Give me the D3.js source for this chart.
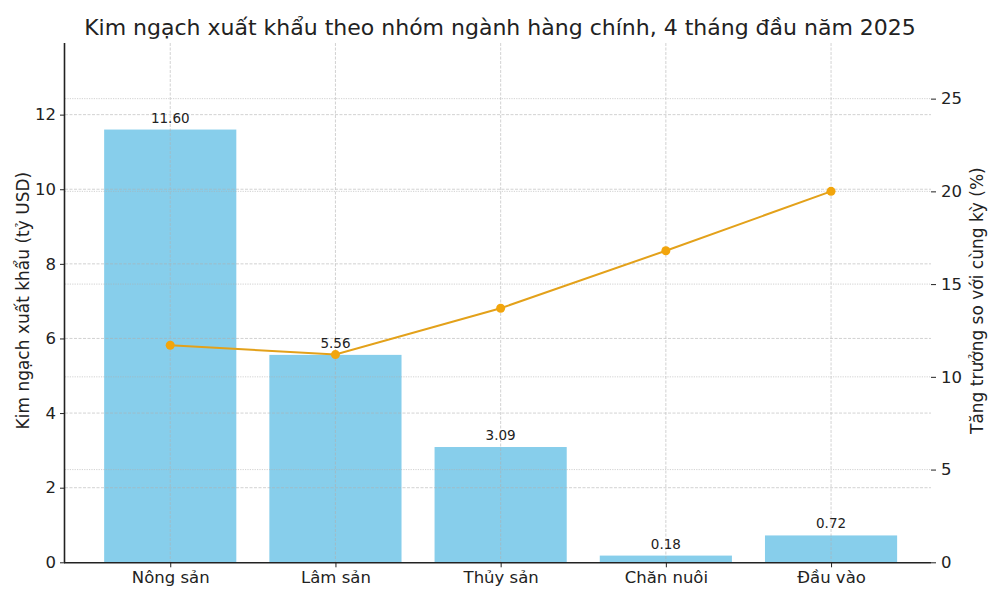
<!DOCTYPE html>
<html><head><meta charset="utf-8">
<script src="https://cdn.jsdelivr.net/npm/d3@7"></script>
<style>body{margin:0;background:#fff}svg{display:block}text{font-family:"DejaVu Sans",sans-serif;fill:#222}</style>
</head><body><svg id="c" width="1000" height="600"></svg>
<script>
const categories = ["Nông sản", "Lâm sản", "Thủy sản", "Chăn nuôi", "Đầu vào"];
const exportValues = [11.60, 5.56, 3.09, 0.18, 0.72];
const growthValues = [11.7, 11.2, 13.7, 16.8, 20.0];
const leftTicks = [0, 2, 4, 6, 8, 10, 12];
const rightTicks = [0, 5, 10, 15, 20, 25];
const title = "Kim ngạch xuất khẩu theo nhóm ngành hàng chính, 4 tháng đầu năm 2025";
const leftLabel = "Kim ngạch xuất khẩu (tỷ USD)";
const rightLabel = "Tăng trưởng so với cùng kỳ (%)";

const svg = d3.select("#c");
const L = 65, R = 931, T = 43, B = 562.3;
const x = d3.scaleLinear().domain([-0.637, 4.605]).range([L, R]);
const yL = d3.scaleLinear().domain([0, 13.92]).range([B, T]);
const yR = d3.scaleLinear().domain([0, 28]).range([B, T]);
const barW = x(0.4) - x(-0.4);

// bars
svg.append("g").selectAll("rect").data(exportValues).join("rect")
  .attr("x", (d, i) => x(i) - barW / 2).attr("width", barW)
  .attr("y", d => yL(d)).attr("height", d => B - yL(d))
  .attr("fill", "#87ceeb");

// grids (drawn above bars, below line)
const g = svg.append("g").attr("stroke", "#b0b0b0").attr("stroke-width", 0.8).attr("opacity", 0.7);
g.selectAll("line.hl").data(leftTicks.filter(d => d > 0)).join("line")
  .attr("x1", L).attr("x2", R).attr("y1", d => yL(d)).attr("y2", d => yL(d))
  .attr("stroke-dasharray", "3,1.5");
g.selectAll("line.vl").data(categories.map((c, i) => i)).join("line")
  .attr("x1", d => x(d)).attr("x2", d => x(d)).attr("y1", T).attr("y2", B)
  .attr("stroke-dasharray", "3,1.5");
g.selectAll("line.hr").data(rightTicks.filter(d => d > 0)).join("line")
  .attr("x1", L).attr("x2", R).attr("y1", d => yR(d)).attr("y2", d => yR(d))
  .attr("stroke-dasharray", "1.2,1.2");

// axes
const axL = d3.axisLeft(yL).tickValues(leftTicks).tickFormat(d3.format("d")).tickSize(5).tickPadding(4);
const gL = svg.append("g").attr("transform", `translate(${L},0)`).call(axL);
gL.select(".domain").attr("d", `M-0.5,${T}V${B}`).attr("stroke", "#222").attr("stroke-width", 1.6);

const axR = d3.axisRight(yR).tickValues(rightTicks).tickFormat(d3.format("d")).tickSize(5).tickPadding(5);
const gR = svg.append("g").attr("transform", `translate(${R},0)`).call(axR);
gR.select(".domain").remove();

const xb = d3.scaleOrdinal().domain(categories).range(categories.map((c, i) => x(i)));
const axB = d3.axisBottom(xb).tickSize(5).tickPadding(4);
const gB = svg.append("g").attr("transform", `translate(0,${B})`).call(axB);
gB.select(".domain").attr("d", `M${L - 1},0.5H${R}`).attr("stroke", "#222").attr("stroke-width", 1.6);

[gL, gR, gB].forEach(a => {
  a.selectAll(".tick line").attr("stroke", "#222").attr("stroke-width", 1);
  a.selectAll(".tick text").attr("font-size", 16.5).attr("fill", "#222").attr("font-family", "DejaVu Sans");
});

// bar labels
svg.append("g").selectAll("text").data(exportValues).join("text")
  .attr("x", (d, i) => x(i)).attr("y", d => yL(d) - 7)
  .attr("text-anchor", "middle").attr("font-size", 13.5)
  .text(d => d.toFixed(2));

// growth line
const line = d3.line().x((d, i) => x(i)).y(d => yR(d));
svg.append("path").datum(growthValues).attr("d", line)
  .attr("fill", "none").attr("stroke", "#e3a11a").attr("stroke-width", 2);
svg.append("g").selectAll("circle").data(growthValues).join("circle")
  .attr("cx", (d, i) => x(i)).attr("cy", d => yR(d)).attr("r", 4.5)
  .attr("fill", "#f2a50c");

// titles
svg.append("text").attr("x", 500).attr("y", 35).attr("text-anchor", "middle")
  .attr("font-size", 22).text(title);
svg.append("text").attr("transform", `translate(29,${(T + B) / 2 - 2}) rotate(-90)`)
  .attr("text-anchor", "middle").attr("font-size", 17).text(leftLabel);
svg.append("text").attr("transform", `translate(983,${(T + B) / 2 - 2}) rotate(-90)`)
  .attr("text-anchor", "middle").attr("font-size", 17).text(rightLabel);
</script></body></html>
